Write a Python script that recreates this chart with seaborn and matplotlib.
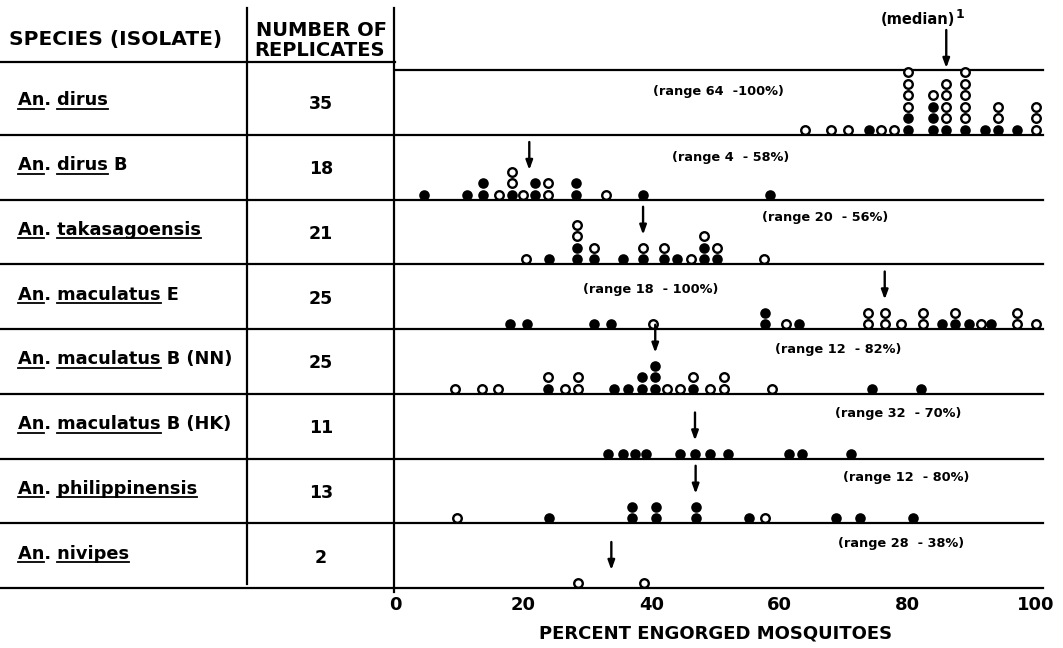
import numpy as np
import pandas as pd
import matplotlib
matplotlib.use("Agg")
import matplotlib.pyplot as plt
import seaborn as sns

genus = "An"
species = ["dirus", "dirus", "takasagoensis", "maculatus", "maculatus",
           "maculatus", "philippinensis", "nivipes"]
isolate = ["", "B", "", "E", "B (NN)", "B (HK)", "", ""]
replicates = [35, 18, 21, 25, 25, 11, 13, 2]
range_labels = ["(range 64  -100%)", "(range 4  - 58%)", "(range 20  - 56%)",
                "(range 18  - 100%)", "(range 12  - 82%)", "(range 32  - 70%)",
                "(range 12  - 80%)", "(range 28  - 38%)"]

# percent engorged per replicate (closed circles / open circles)
closed = [
    [74, 80, 80, 84, 84, 84, 86, 89, 92, 94, 97],
    [4.6, 11.2, 13.8, 13.8, 18.2, 21.9, 21.9, 28.3, 28.3, 38.7, 58.5],
    [24.1, 28.4, 28.4, 31, 35.5, 38.7, 42, 44, 48.2, 48.2, 50.3],
    [18, 20.6, 31, 33.7, 57.7, 57.7, 63, 85.3, 87.4, 89.5, 93],
    [23.9, 34.2, 36.4, 38.5, 38.5, 40.6, 40.6, 40.6, 46.5, 74.4, 82],
    [33.3, 35.5, 37.4, 39.2, 44.4, 46.8, 49.2, 51.9, 61.4, 63.5, 71.1],
    [24.1, 37, 37, 40.7, 40.7, 46.9, 46.9, 55.3, 68.8, 72.6, 80.8],
    [],
]
opened = [
    [64, 68, 70.6, 75.8, 77.8, 80, 80, 80, 80, 84, 86, 86, 86, 86,
     89, 89, 89, 89, 89, 94, 94, 100, 100, 100],
    [16.3, 18.2, 18.2, 20, 23.9, 23.9, 32.9],
    [20.4, 28.4, 28.4, 31, 38.7, 42, 46.1, 48.2, 50.3, 57.6],
    [40.2, 61, 73.8, 73.8, 76.4, 76.4, 78.9, 82.4, 82.4, 87.4, 91.4, 97, 97, 100],
    [9.4, 13.5, 16.1, 23.9, 26.5, 28.5, 28.5, 42.5, 44.5, 46.5, 49.1, 51.4, 51.4, 58.8],
    [],
    [9.7, 57.8],
    [28.6, 38.9],
]

# layout (pixels)
W, H = 1063, 648
ROW_TOP, ROW_H = 70, 64.75
X_ZERO, PX_PER = 395, 6.41
X_RIGHT = 1043
STEP = 11.5

plt.rcParams["font.family"] = "DejaVu Sans"
plt.rcParams["font.weight"] = "bold"

rows = []
for i in range(len(species)):
    for v in closed[i]:
        rows.append((i, v, "closed"))
    for v in opened[i]:
        rows.append((i, v, "open"))
df = pd.DataFrame(rows, columns=["row", "pct", "kind"])
df["order"] = (df["kind"] == "open").astype(int)
df = df.sort_values(["row", "pct", "order"], kind="stable")
df["level"] = df.groupby(["row", "pct"]).cumcount()
df["y"] = ROW_TOP + (df["row"] + 1) * ROW_H - 5 - df["level"] * STEP

fig = plt.figure(figsize=(W / 100, H / 100), dpi=100)
bg = fig.add_axes([0, 0, 1, 1])
bg.set_xlim(0, W)
bg.set_ylim(H, 0)
bg.axis("off")

ax = fig.add_axes([X_ZERO / W, (H - 592) / H, (X_RIGHT - X_ZERO) / W, (592 - 8) / H])
ax.set_xlim(0, (X_RIGHT - X_ZERO) / PX_PER)
ax.set_ylim(592, 8)
ax.patch.set_alpha(0)

sns.scatterplot(data=df[df["kind"] == "closed"], x="pct", y="y", color="black",
                s=58, linewidth=0, ax=ax, legend=False, zorder=3)
sns.scatterplot(data=df[df["kind"] == "open"], x="pct", y="y", color="white",
                edgecolor="black", s=38, linewidth=1.7, ax=ax, legend=False, zorder=3)

# table lines
lw = 1.6
for i in range(len(species) + 1):
    y = ROW_TOP + i * ROW_H
    if i == 0:
        bg.plot([0, X_ZERO], [62, 62], color="black", lw=lw)
        bg.plot([X_ZERO, X_RIGHT], [y, y], color="black", lw=lw)
    else:
        bg.plot([0, X_RIGHT], [y, y], color="black", lw=lw)
bg.plot([247, 247], [8, ROW_TOP + 8 * ROW_H - 4], color="black", lw=lw)
bg.plot([X_ZERO - 1, X_ZERO - 1], [8, 592], color="black", lw=lw)

# headers
bg.text(9, 40, "SPECIES (ISOLATE)", fontsize=14.5, va="center", ha="left")
bg.text(322, 30, "NUMBER OF", fontsize=14, va="center", ha="center")
bg.text(320, 51, "REPLICATES", fontsize=14, va="center", ha="center")

renderer = fig.canvas.get_renderer()
lab_size = 12.8


def text_w(s, size):
    t = bg.text(0, 0, s, fontsize=size)
    w = t.get_window_extent(renderer).width
    t.remove()
    return w


for i in range(len(species)):
    yc = ROW_TOP + (i + 0.5) * ROW_H
    base = yc + 3
    label = f"{genus}. {species[i]}" + (f" {isolate[i]}" if isolate[i] else "")
    x0 = 18
    bg.text(x0, base, label, fontsize=lab_size, va="baseline", ha="left")
    # underline genus and species
    g_end = x0 + text_w(genus, lab_size)
    s_start = x0 + text_w(f"{genus}. {species[i]}", lab_size) - text_w(species[i], lab_size)
    s_end = x0 + text_w(f"{genus}. {species[i]}", lab_size)
    for a, b in [(x0, g_end), (s_start, s_end)]:
        bg.plot([a, b], [base + 3.5, base + 3.5], color="black", lw=1.3)
    bg.text(321, yc + 2, str(replicates[i]), fontsize=12.5, va="center", ha="center")

# medians and ranges
range_pos = [(653, 92), (672, 158), (762, 218), (583, 290),
             (775, 349), (835, 414), (843, 477), (838, 544)]
for i in range(len(species)):
    vals = np.array(closed[i] + opened[i])
    med = np.median(vals)
    if i == 0:
        tail, tip = 30, ROW_TOP - 2
    else:
        near = df[(df["row"] == i) & (np.abs(df["pct"] - med) < 1.6)]
        h = max(1, int(near["level"].max() + 1) if len(near) else 1)
        top_c = ROW_TOP + (i + 1) * ROW_H - 5 - (h - 1) * STEP
        tip = top_c - 13
        tail = tip - 28
    ax.annotate("", xy=(med, tip), xytext=(med, tail),
                arrowprops=dict(arrowstyle="-|>,head_length=0.55,head_width=0.2",
                                color="black", lw=1.7, shrinkA=0, shrinkB=0))
    px, py = range_pos[i]
    ax.text((px - X_ZERO) / PX_PER, py, range_labels[i], fontsize=9.3,
            ha="left", va="center")

ax.text((918 - X_ZERO) / PX_PER, 20, "(median)", fontsize=10.5, ha="center", va="center")
ax.text((956 - X_ZERO) / PX_PER, 14, "1", fontsize=9, ha="left", va="center")

ax.set_xticks(np.arange(0, 101, 20))
ax.set_xticklabels([str(v) for v in range(0, 101, 20)], fontsize=13, fontweight="bold")
ax.tick_params(axis="x", length=0, pad=3)
ax.set_yticks([])
ax.set_ylabel("")
ax.set_xlabel("PERCENT ENGORGED MOSQUITOES", fontsize=13, fontweight="bold")
ax.xaxis.set_label_coords(50 / ((X_RIGHT - X_ZERO) / PX_PER), -0.056)
for sp in ax.spines.values():
    sp.set_visible(False)

fig.savefig("out.png", dpi=100)
